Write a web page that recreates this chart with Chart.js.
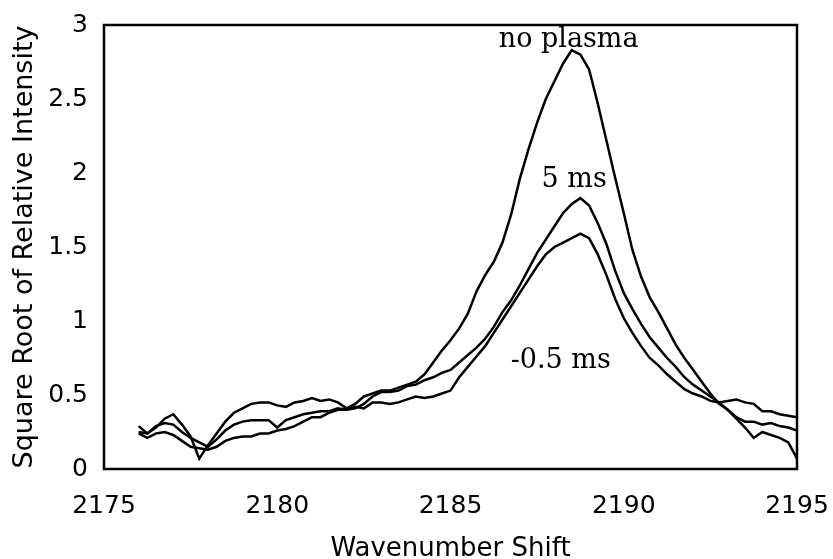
<!DOCTYPE html>
<html><head><meta charset="utf-8">
<script src="https://cdn.jsdelivr.net/npm/chart.js@4"></script>
<style>html,body{margin:0;padding:0;background:#fff;}</style>
</head><body>
<canvas id="c" width="833" height="559" style="display:block;width:833px;height:559px"></canvas>
<script>
const wavenumber = [2176.00,2176.25,2176.50,2176.75,2177.00,2177.25,2177.50,2177.75,2178.00,2178.25,2178.50,2178.75,2179.00,2179.25,2179.50,2179.75,2180.00,2180.25,2180.50,2180.75,2181.00,2181.25,2181.50,2181.75,2182.00,2182.25,2182.50,2182.75,2183.00,2183.25,2183.50,2183.75,2184.00,2184.25,2184.50,2184.75,2185.00,2185.25,2185.50,2185.75,2186.00,2186.25,2186.50,2186.75,2187.00,2187.25,2187.50,2187.75,2188.00,2188.25,2188.50,2188.75,2189.00,2189.25,2189.50,2189.75,2190.00,2190.25,2190.50,2190.75,2191.00,2191.25,2191.50,2191.75,2192.00,2192.25,2192.50,2192.75,2193.00,2193.25,2193.50,2193.75,2194.00,2194.25,2194.50,2194.75,2195.00];
const noPlasma = [0.29,0.24,0.28,0.34,0.37,0.30,0.22,0.07,0.16,0.24,0.32,0.38,0.41,0.44,0.45,0.45,0.43,0.42,0.45,0.46,0.48,0.46,0.47,0.45,0.41,0.44,0.49,0.51,0.53,0.53,0.55,0.57,0.59,0.64,0.72,0.80,0.87,0.95,1.05,1.20,1.31,1.40,1.53,1.72,1.96,2.16,2.34,2.50,2.62,2.74,2.83,2.80,2.70,2.47,2.22,1.97,1.73,1.48,1.30,1.16,1.06,0.95,0.84,0.75,0.67,0.59,0.51,0.44,0.40,0.34,0.28,0.21,0.25,0.23,0.21,0.18,0.07];
const ms5 = [0.25,0.24,0.29,0.31,0.30,0.25,0.21,0.18,0.15,0.20,0.26,0.30,0.32,0.33,0.33,0.33,0.28,0.33,0.35,0.37,0.38,0.39,0.39,0.41,0.40,0.41,0.44,0.49,0.52,0.52,0.53,0.56,0.57,0.60,0.62,0.65,0.67,0.72,0.77,0.82,0.88,0.96,1.06,1.14,1.24,1.35,1.46,1.55,1.64,1.73,1.79,1.83,1.78,1.66,1.52,1.34,1.19,1.08,0.98,0.89,0.82,0.75,0.69,0.62,0.57,0.53,0.49,0.45,0.40,0.35,0.32,0.32,0.30,0.31,0.29,0.28,0.26];
const msNeg05 = [0.24,0.21,0.24,0.25,0.23,0.19,0.15,0.14,0.13,0.15,0.19,0.21,0.22,0.22,0.24,0.24,0.26,0.27,0.29,0.32,0.35,0.35,0.38,0.40,0.40,0.42,0.41,0.45,0.45,0.44,0.45,0.47,0.49,0.48,0.49,0.51,0.53,0.62,0.69,0.76,0.83,0.92,1.01,1.10,1.19,1.28,1.37,1.45,1.50,1.53,1.56,1.59,1.56,1.45,1.31,1.15,1.02,0.92,0.83,0.75,0.70,0.64,0.59,0.54,0.51,0.49,0.46,0.45,0.46,0.47,0.45,0.44,0.39,0.39,0.37,0.36,0.35];
const xTicks = [2175,2180,2185,2190,2195];
const yTicks = [0,0.5,1,1.5,2,2.5,3];
const seriesNames = ['no plasma','5 ms','-0.5 ms'];
const labelX = [2188.41,2188.57,2188.18];
const labelY = [2.85,1.905,0.68];

const seriesValues = [noPlasma, ms5, msNeg05];
const datasets = seriesValues.map((vals,i)=>({
  label: seriesNames[i],
  data: wavenumber.map((x,k)=>({x:x, y:vals[k]})),
  borderColor:'#000', borderWidth:2.5, pointRadius:0, tension:0, fill:false
}));

const framePlugin = {
  id:'frame',
  afterDatasetsDraw(chart){
    const {ctx, chartArea:a, scales} = chart;
    ctx.save();
    ctx.strokeStyle='#000'; ctx.lineWidth=2.5;
    ctx.strokeRect(a.left, a.top, a.right-a.left, a.bottom-a.top);
    ctx.font='27px "DejaVu Serif"'; ctx.fillStyle='#000';
    ctx.textAlign='center'; ctx.textBaseline='alphabetic';
    seriesNames.forEach((n,i)=>{
      ctx.fillText(n, scales.x.getPixelForValue(labelX[i]), scales.y.getPixelForValue(labelY[i]));
    });
    ctx.restore();
  }
};

new Chart(document.getElementById('c'), {
  type:'line',
  data:{datasets},
  plugins:[framePlugin],
  options:{
    responsive:false, animation:false, devicePixelRatio:1,
    layout:{padding:{top:25,right:36,left:0,bottom:0}},
    plugins:{legend:{display:false}, tooltip:{enabled:false}},
    scales:{
      x:{type:'linear', min:2175, max:2195,
        afterBuildTicks:s=>{s.ticks = xTicks.map(v=>({value:v}));},
        afterFit:s=>{s.height=90; s.paddingLeft=0; s.paddingRight=0;},
        grid:{display:false, drawTicks:false}, border:{display:false},
        ticks:{color:'#000', font:{family:'DejaVu Sans', size:25}, padding:22, maxRotation:0, autoSkip:false, callback:v=>String(v)},
        title:{display:true, text:'Wavenumber Shift', color:'#000', font:{family:'DejaVu Sans', size:26}, padding:{top:0,bottom:-6}}
      },
      y:{type:'linear', min:0, max:3,
        afterBuildTicks:s=>{s.ticks = yTicks.map(v=>({value:v}));},
        afterFit:s=>{s.width=104; s.paddingTop=0; s.paddingBottom=0;},
        grid:{display:false, drawTicks:false}, border:{display:false},
        ticks:{color:'#000', font:{family:'DejaVu Sans', size:25}, padding:16, autoSkip:false, callback:v=>String(v)},
        title:{display:true, text:'Square Root of Relative Intensity', color:'#000', font:{family:'DejaVu Sans', size:27}, padding:{top:9,bottom:0}}
      }
    }
  }
});
</script>
</body></html>
